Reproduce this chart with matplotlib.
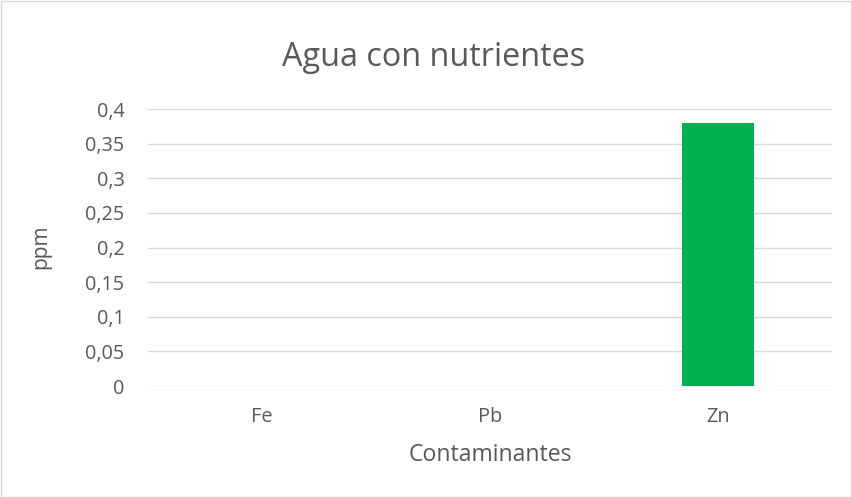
import matplotlib
matplotlib.use("Agg")
import matplotlib.pyplot as plt
from matplotlib.patches import Rectangle

categories = ["Fe", "Pb", "Zn"]
values = [0.0, 0.0, 0.38]
yticks = [0, 0.05, 0.1, 0.15, 0.2, 0.25, 0.3, 0.35, 0.4]
ytick_labels = ["0", "0,05", "0,1", "0,15", "0,2", "0,25", "0,3", "0,35", "0,4"]

plt.rcParams['font.family'] = ['Open Sans', 'DejaVu Sans']
txt = "#595959"

fig = plt.figure(figsize=(8.53, 4.97), dpi=100)
fig.patches.append(Rectangle((0.001, 0.001), 0.997, 0.997, transform=fig.transFigure,
                             fill=False, edgecolor="#d9d9d9", linewidth=1))
W, H = 853, 497
left, right, top, bottom = 148, 832, 109, 386
ax = fig.add_axes([left / W, 1 - bottom / H, (right - left) / W, (bottom - top) / H])

x = range(len(categories))
ax.bar(x, values, width=0.316, color="#00B050", zorder=3)
ax.set_xlim(-0.5, 2.5)
ax.set_ylim(0, 0.4)
ax.set_yticks(yticks)
ax.set_yticklabels(ytick_labels)
ax.set_xticks(list(x))
ax.set_xticklabels(categories)
ax.grid(axis="y", color="#d9d9d9", linewidth=1, zorder=0)
for s in ax.spines.values():
    s.set_visible(False)
ax.tick_params(axis="both", length=0, colors=txt, labelsize=14.3)
ax.tick_params(axis="y", pad=17)
ax.tick_params(axis="x", pad=15)
ax.set_xlabel("Contaminantes", color=txt, fontsize=16.6, va="center")
ax.xaxis.set_label_coords(490 / W, 1 - 455 / H, transform=fig.transFigure)
ax.set_ylabel("ppm", color=txt, fontsize=15, va="center")
ax.yaxis.set_label_coords(41 / W, 1 - 247 / H, transform=fig.transFigure)
fig.text(434 / W, 1 - 57 / H, "Agua con nutrientes", ha="center", va="center",
         color=txt, fontsize=23.3)

fig.savefig("out.png", dpi=100)
